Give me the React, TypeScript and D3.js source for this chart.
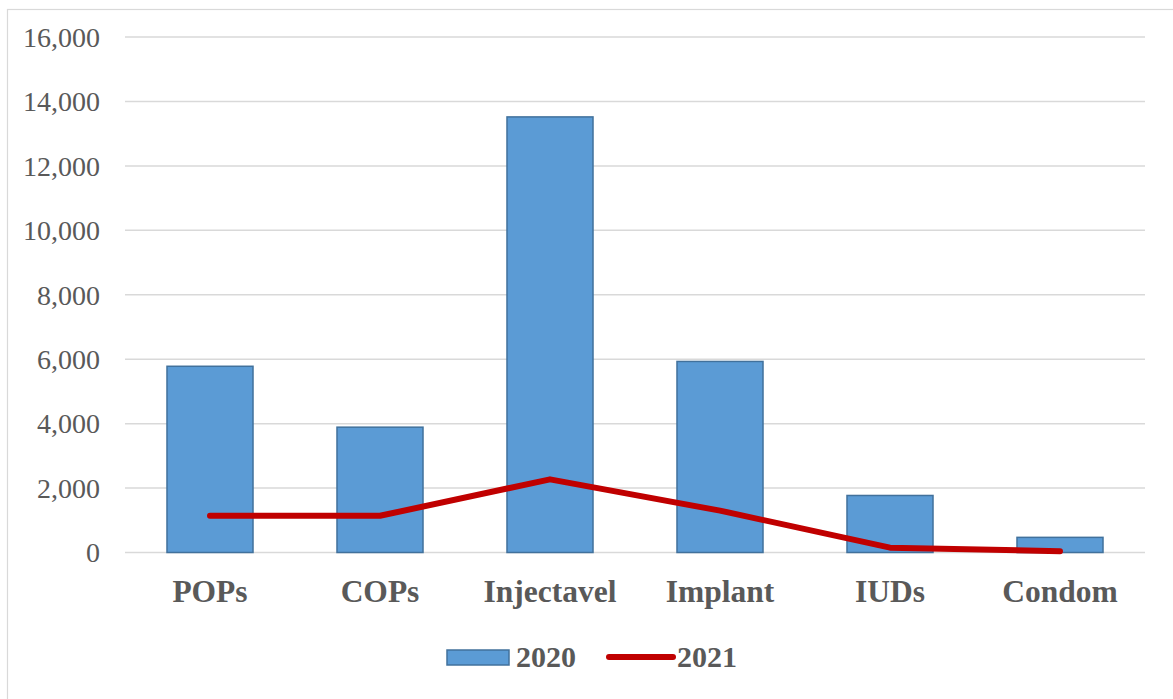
import React from "react";
import * as d3 from "d3";

const categories = ["POPs", "COPs", "Injectavel", "Implant", "IUDs", "Condom"];
const values2020 = [5780, 3890, 13520, 5930, 1770, 470];
const values2021 = [1140, 1140, 2270, 1300, 150, 40];
const yTicks = [0, 2000, 4000, 6000, 8000, 10000, 12000, 14000, 16000];
const seriesNames = ["2020", "2021"];

const W = 1173;
const H = 699;
const textColor = "#595959";
const font = "'Liberation Serif', 'Times New Roman', serif";

export default function App() {
  const x = d3
    .scaleBand<string>()
    .domain(categories)
    .range([125, 1145])
    .paddingInner(0.494)
    .paddingOuter(0.247);
  const y = d3.scaleLinear().domain([0, 16000]).range([552.5, 37]);
  const fmt = d3.format(",");
  const line = d3
    .line<number>()
    .x((_, i) => (x(categories[i]) as number) + x.bandwidth() / 2)
    .y((d) => y(d));

  return (
    <svg
      width={W}
      height={H}
      style={{ position: "absolute", left: 0, top: 0, background: "#fff" }}
    >
      <rect x={0} y={0} width={W} height={H} fill="#fff" />
      <rect x={7.5} y={9.5} width={1300} height={900} fill="none" stroke="#d9d9d9" strokeWidth={1.2} />
      {yTicks.map((t) => (
        <g key={t}>
          <line x1={125} x2={1145} y1={y(t)} y2={y(t)} stroke="#d9d9d9" strokeWidth={1.5} />
          <text
            x={100}
            y={y(t)}
            dy="0.35em"
            textAnchor="end"
            fontFamily={font}
            fontSize={28}
            fill={textColor}
          >
            {fmt(t)}
          </text>
        </g>
      ))}
      {categories.map((c, i) => (
        <rect
          key={c}
          x={x(c)}
          y={y(values2020[i])}
          width={x.bandwidth()}
          height={y(0) - y(values2020[i])}
          fill="#5B9BD5"
          stroke="#41719C"
          strokeWidth={1.5}
        />
      ))}
      <path
        d={line(values2021) || ""}
        fill="none"
        stroke="#C00000"
        strokeWidth={6}
        strokeLinecap="round"
        strokeLinejoin="round"
      />
      {categories.map((c) => (
        <text
          key={c}
          x={(x(c) as number) + x.bandwidth() / 2}
          y={602}
          textAnchor="middle"
          fontFamily={font}
          fontWeight="bold"
          fontSize={31.5}
          fill={textColor}
        >
          {c}
        </text>
      ))}
      <rect x={447} y={650} width={62} height={15} fill="#5B9BD5" stroke="#41719C" strokeWidth={1.5} />
      <text x={516} y={667} fontFamily={font} fontWeight="bold" fontSize={30} fill={textColor}>
        {seriesNames[0]}
      </text>
      <line x1={609} x2={673} y1={657} y2={657} stroke="#C00000" strokeWidth={6} strokeLinecap="round" />
      <text x={677} y={667} fontFamily={font} fontWeight="bold" fontSize={30} fill={textColor}>
        {seriesNames[1]}
      </text>
    </svg>
  );
}
